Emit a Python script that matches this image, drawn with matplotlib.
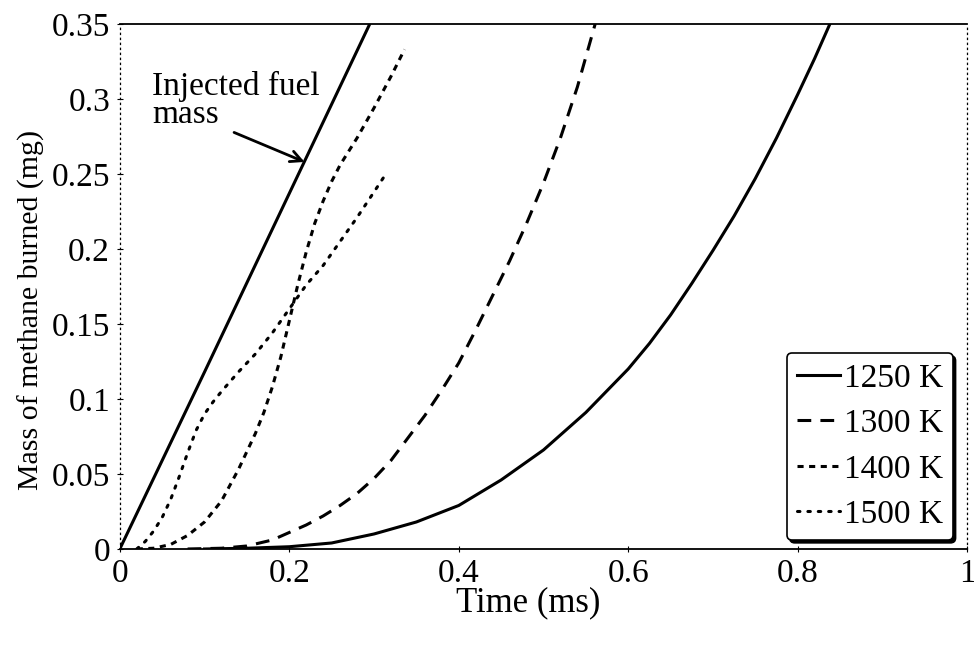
import matplotlib
matplotlib.use('Agg')
import matplotlib.pyplot as plt

# ---- data (time in ms, mass in mg) ----
inj_t = [0.0, 0.10, 0.20, 0.295]
inj_m = [0.0, 0.118, 0.237, 0.35]

t_1250 = [0.10, 0.15, 0.20, 0.25, 0.30, 0.35, 0.40, 0.45, 0.50, 0.55, 0.60, 0.625, 0.65, 0.675,
          0.70, 0.725, 0.75, 0.775, 0.80, 0.82, 0.838]
m_1250 = [0.0, 0.0005, 0.0015, 0.004, 0.010, 0.018, 0.029, 0.046, 0.066, 0.091, 0.120, 0.137, 0.156, 0.177,
          0.199, 0.222, 0.247, 0.274, 0.303, 0.327, 0.35]

t_1300 = [0.08, 0.12, 0.15, 0.18, 0.20, 0.22, 0.24, 0.26, 0.28, 0.30, 0.32, 0.34, 0.36, 0.38,
          0.40, 0.42, 0.44, 0.46, 0.48, 0.50, 0.52, 0.54, 0.561]
m_1300 = [0.0, 0.0005, 0.002, 0.006, 0.011, 0.016, 0.022, 0.029, 0.037, 0.047, 0.059, 0.074, 0.089, 0.106,
          0.124, 0.146, 0.169, 0.192, 0.217, 0.244, 0.274, 0.308, 0.35]

t_1400 = [0.02, 0.04, 0.06, 0.08, 0.10, 0.12, 0.14, 0.16, 0.17, 0.18, 0.19, 0.20, 0.21, 0.22,
          0.23, 0.24, 0.25, 0.26, 0.28, 0.30, 0.32, 0.336]
m_1400 = [0.0, 0.0005, 0.003, 0.009, 0.018, 0.032, 0.053, 0.077, 0.091, 0.108, 0.128, 0.152, 0.176, 0.198,
          0.217, 0.232, 0.245, 0.256, 0.274, 0.294, 0.315, 0.333]

t_1500 = [0.02, 0.03, 0.04, 0.05, 0.06, 0.07, 0.08, 0.09, 0.10, 0.11, 0.12, 0.14, 0.16, 0.18,
          0.20, 0.22, 0.24, 0.26, 0.28, 0.30, 0.314]
m_1500 = [0.0, 0.005, 0.012, 0.021, 0.033, 0.048, 0.064, 0.079, 0.090, 0.098, 0.105, 0.118, 0.130, 0.144,
          0.160, 0.176, 0.189, 0.205, 0.221, 0.238, 0.250]

x_ticks = [0, 0.2, 0.4, 0.6, 0.8, 1.0]
x_ticklabels = ['0', '0.2', '0.4', '0.6', '0.8', '1']
y_ticks = [0, 0.05, 0.1, 0.15, 0.2, 0.25, 0.3, 0.35]
y_ticklabels = ['0', '0.05', '0.1', '0.15', '0.2', '0.25', '0.3', '0.35']

plt.rcParams['font.family'] = ['Liberation Serif', 'DejaVu Serif']
plt.rcParams['font.size'] = 24

fig = plt.figure(figsize=(9.74, 6.47), dpi=100)
ax = fig.add_axes([0.123, 0.1515, 0.870, 0.8115])

lw = 2.2
ax.plot(inj_t, inj_m, color='black', lw=lw, solid_capstyle='butt')
ax.plot(t_1250, m_1250, color='black', lw=lw, label='1250 K')
ax.plot(t_1300, m_1300, color='black', lw=lw, dashes=(4.5, 3), label='1300 K')
ax.plot(t_1400, m_1400, color='black', lw=lw, dashes=(2, 1.8), label='1400 K')
ax.plot(t_1500, m_1500, color='black', lw=lw, dashes=(0.8, 2.6), dash_capstyle='round', label='1500 K')

ax.set_xlim(0, 1)
ax.set_ylim(0, 0.35)
ax.set_xticks(x_ticks)
ax.set_xticklabels(x_ticklabels)
ax.set_yticks(y_ticks)
ax.set_yticklabels(y_ticklabels)
ax.tick_params(direction='inout', length=4, width=0.8, pad=5)
ax.set_xlabel('Time (ms)', labelpad=-2, fontsize=25)
ax.xaxis.label.set_x(0.482)
ax.set_ylabel('Mass of methane burned (mg)', labelpad=5, fontsize=21.5)
ax.yaxis.label.set_y(0.455)

# spines: solid top/bottom, dotted sides
for s in ['top', 'bottom']:
    ax.spines[s].set_linewidth(1.3)
for s in ['left', 'right']:
    ax.spines[s].set_linewidth(0.9)
    ax.spines[s].set_linestyle((0, (1, 3)))

ax.annotate('Injected fuel\nmass', xy=(0.218, 0.258), xytext=(0.038, 0.319),
            ha='left', va='top', linespacing=0.9,
            arrowprops=dict(arrowstyle='->', color='black', lw=2, mutation_scale=20,
                            shrinkA=0, shrinkB=0, relpos=(0.45, 0.0)))

leg = ax.legend(loc='lower right', bbox_to_anchor=(0.983, 0.017), frameon=True,
                fancybox=True, shadow={'color': 'black', 'alpha': 1},
                handlelength=1.3, handletextpad=0.1, labelspacing=0.45,
                borderpad=0.3, borderaxespad=0, fontsize=24)
leg.get_frame().set_edgecolor('black')
leg.get_frame().set_linewidth(1.2)
leg.get_frame().set_alpha(1)
leg.get_frame().set_boxstyle('round', pad=0, rounding_size=0.15)

fig.savefig('out.png', dpi=100)
